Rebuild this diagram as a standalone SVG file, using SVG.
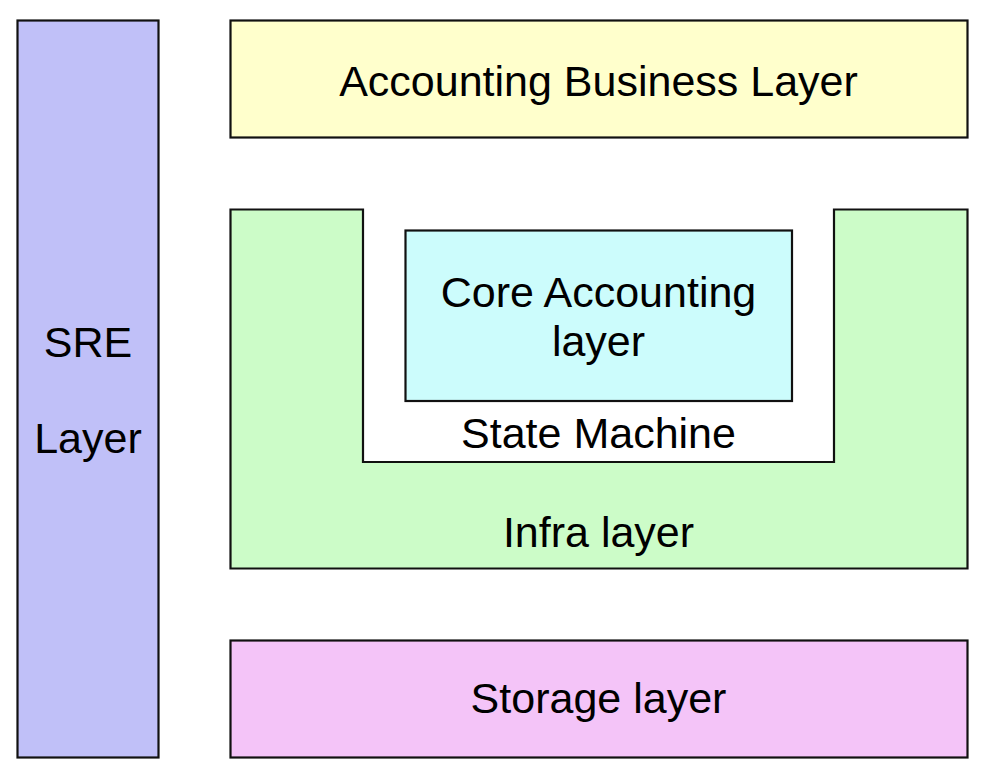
<svg xmlns="http://www.w3.org/2000/svg" width="984" height="772" viewBox="0 0 984 772">
<style>
.box{stroke:#111;stroke-width:2.2;stroke-linejoin:miter}
.t{font-family:"Liberation Sans",Arial,Helvetica,sans-serif;font-size:43px;fill:#000;text-anchor:middle}
</style>
<rect width="984" height="772" fill="#fff"/>
<g id="sre">
<rect class="box" x="17.5" y="20.5" width="141" height="737" fill="#c0c0f8"/>
<text class="t" x="88" y="357">SRE</text>
<text class="t" x="88" y="453">Layer</text>
</g>
<g id="business">
<rect class="box" x="230.5" y="20.5" width="737" height="117" fill="#ffffcc"/>
<text class="t" x="598.5" y="96">Accounting Business Layer</text>
</g>
<g id="infra">
<path class="box" d="M230.5,209.5 H363 V462 H834 V209.5 H967.5 V568.5 H230.5 Z" fill="#ccfcc8"/>
<text class="t" x="598.5" y="547">Infra layer</text>
</g>
<g id="state-machine">
<text class="t" x="598.5" y="448">State Machine</text>
</g>
<g id="core">
<rect class="box" x="405.5" y="230.5" width="386.5" height="170.5" fill="#ccfcfc"/>
<text class="t" x="598.5" y="307">Core Accounting</text>
<text class="t" x="598.5" y="356">layer</text>
</g>
<g id="storage">
<rect class="box" x="230.5" y="640.5" width="737" height="117" fill="#f4c4f8"/>
<text class="t" x="598.5" y="713">Storage layer</text>
</g>
<g id="connectors"></g>
</svg>
